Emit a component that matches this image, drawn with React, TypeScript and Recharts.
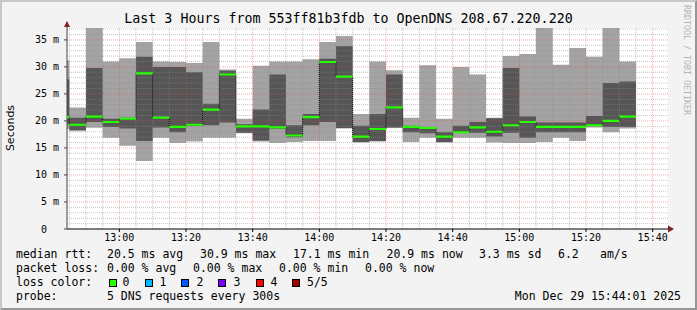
import React from 'react';
import {
  ComposedChart,
  Area,
  Line,
  XAxis,
  YAxis,
  ReferenceLine,
  ReferenceArea
} from 'recharts';

// 5 minute slots, start of each step
const slots = [
  '12:40', '12:45', '12:50', '12:55', '13:00', '13:05', '13:10', '13:15', '13:20',
  '13:25', '13:30', '13:35', '13:40', '13:45', '13:50', '13:55', '14:00', '14:05',
  '14:10', '14:15', '14:20', '14:25', '14:30', '14:35', '14:40', '14:45', '14:50',
  '14:55', '15:00', '15:05', '15:10', '15:15', '15:20', '15:25', '15:30'
];

// smoke values in ms
const maxRtt = [
  31.2, 22.5, 37.2, 31.0, 31.6, 34.6, 31.0, 30.9, 30.7,
  34.6, 29.5, 20.4, 30.2, 31.0, 31.0, 31.4, 34.6, 35.7,
  21.3, 31.0, 29.4, 20.6, 30.3, 20.4, 30.0, 28.6, 20.6,
  32.0, 32.4, 37.2, 30.4, 33.5, 31.9, 37.2, 31.0
];
const upperRtt = [
  27.7, 20.6, 29.8, 20.4, 20.6, 31.9, 30.0, 30.0, 29.0,
  23.2, 29.3, 19.4, 22.1, 28.6, 19.2, 21.3, 31.5, 33.8,
  19.1, 21.3, 28.6, 19.1, 18.8, 17.9, 19.1, 19.8, 20.5,
  29.8, 20.8, 19.7, 19.7, 19.7, 20.9, 27.0, 27.3
];
const medianRtt = [
  20.7, 19.3, 20.8, 19.8, 20.4, 28.8, 20.6, 18.9, 19.3,
  22.1, 28.6, 19.0, 19.0, 18.8, 17.3, 20.7, 30.9, 28.2,
  17.1, 18.5, 22.5, 18.9, 18.7, 17.1, 17.9, 18.8, 18.0,
  19.2, 19.8, 18.9, 18.9, 18.9, 19.2, 20.0, 20.8
];
const lowerRtt = [
  19.5, 18.3, 19.8, 18.9, 18.6, 16.3, 18.8, 17.9, 19.1,
  19.2, 19.7, 17.8, 16.4, 18.5, 17.0, 19.2, 19.8, 18.7,
  16.1, 16.3, 18.8, 17.9, 17.7, 16.1, 17.8, 17.8, 17.1,
  17.8, 16.9, 17.9, 17.9, 17.9, 19.0, 18.9, 18.9
];
const minRtt = [
  18.5, 18.1, 18.75, 16.9, 15.4, 12.6, 16.9, 15.9, 16.2,
  16.9, 16.9, 17.7, 16.2, 15.9, 16.1, 16.3, 16.3, 18.6,
  16.0, 16.2, 18.7, 16.1, 16.9, 16.0, 16.9, 16.9, 16.0,
  15.9, 15.9, 16.1, 16.9, 16.3, 18.8, 17.9, 18.6
];

const xTickLabels = ['13:00', '13:20', '13:40', '14:00', '14:20', '14:40', '15:00', '15:20', '15:40'];
const yTicks = [0, 5, 10, 15, 20, 25, 30, 35];

const toMin = (s: string) => {
  const [h, m] = s.split(':').map(Number);
  return h * 60 + m;
};
const fmt = (v: number) =>
  `${Math.floor(v / 60)}:${String(Math.round(v % 60)).padStart(2, '0')}`;

const xDomain: [number, number] = [764.3, 944.6];
const yDomain: [number, number] = [0, 37.2];

const row = (i: number, t: number) => ({
  t,
  smoke: [minRtt[i], maxRtt[i]],
  core: [lowerRtt[i], upperRtt[i]],
  med: medianRtt[i],
  medBand: [medianRtt[i] - 0.2, medianRtt[i] + 0.2]
});
const data = slots.map((s, i) => row(i, toMin(s)));
// close the last step
data.push(row(slots.length - 1, toMin(slots[slots.length - 1]) + 5));

const xTicks = xTickLabels.map(toMin);
const minorX: number[] = [];
for (let t = 765; t < xDomain[1]; t += 5) if (t % 20 !== 0) minorX.push(t);
const minorY: number[] = [];
for (let v = 1; v < yDomain[1]; v += 1) if (v % 5 !== 0) minorY.push(v);
const majorY = yTicks.filter((v) => v > 0);

const mono = '"DejaVu Sans Mono", monospace';
const GRID = 'rgba(140,140,140,0.5)';
const MGRID = 'rgba(222,70,70,0.45)';
const ARROW = '#7f1f1f';

const XTick = (props: any) => {
  const { x, y, payload } = props;
  return (
    <text x={x} y={y} dy={7} textAnchor="middle" fontFamily={mono} fontSize={10} fill="#000">
      {fmt(payload.value)}
    </text>
  );
};

const YTick = (props: any) => {
  const { x, y, payload } = props;
  const v = payload.value;
  return (
    <text x={x} y={y} dx={v === 0 ? -15 : -3} dy={3.5} textAnchor="end" fontFamily={mono} fontSize={10} fill="#000">
      {v === 0 ? '0' : `${v} m`}
    </text>
  );
};

const legendRows = [
  { top: 247, items: [[16, 'median rtt:'], [107, '20.5 ms avg'], [200, '30.9 ms max'], [293, '17.1 ms min'], [386.5, '20.9 ms now'], [479, '3.3 ms sd'], [558, '6.2'], [600, 'am/s']] },
  { top: 261, items: [[16, 'packet loss:'], [107, '0.00 % avg'], [193, '0.00 % max'], [279, '0.00 % min'], [365, '0.00 % now']] },
  { top: 275, items: [[16, 'loss color:'], [122.5, '0'], [159.5, '1'], [196.5, '2'], [233.5, '3'], [270.5, '4'], [307, '5/5']] },
  { top: 289, items: [[16, 'probe:'], [107, '5 DNS requests every 300s']] }
];

const lossBoxes: [number, string][] = [
  [108.5, '#26ff00'],
  [145, '#00b8ff'],
  [181, '#0059ff'],
  [218, '#7e00ff'],
  [255.5, '#ff0000'],
  [292, '#a00000']
];

export default function App() {
  return (
    <div style={{ position: 'fixed', left: 0, top: 0, width: 697, height: 310, background: '#f3f3f3', overflow: 'hidden' }}>
      <div style={{ position: 'absolute', left: 0, top: 0 }}>
        <ComposedChart width={697} height={310} data={data} margin={{ top: 28, right: 29, bottom: 61, left: 0 }}>
          <XAxis
            dataKey="t"
            type="number"
            domain={xDomain}
            allowDataOverflow
            ticks={xTicks}
            tick={<XTick />}
            tickSize={3}
            height={20}
            axisLine={{ stroke: '#000' }}
            tickLine={{ stroke: '#000' }}
          />
          <YAxis
            type="number"
            domain={yDomain}
            allowDataOverflow
            ticks={yTicks}
            tick={<YTick />}
            tickSize={3}
            width={67}
            axisLine={{ stroke: '#444' }}
            tickLine={{ stroke: '#444' }}
          />
          <ReferenceArea x1={xDomain[0]} x2={xDomain[1]} y1={yDomain[0]} y2={yDomain[1]} fill="#fff" fillOpacity={1} stroke="none" ifOverflow="hidden" />
          <Area type="stepAfter" dataKey="smoke" fill="#a3a3a3" fillOpacity={1} stroke="none" isAnimationActive={false} activeDot={false} />
          <Area type="stepAfter" dataKey="core" fill="#565656" fillOpacity={1} stroke="none" isAnimationActive={false} activeDot={false} />
          {minorX.map((t) => (
            <ReferenceLine key={`mx${t}`} x={t} stroke={GRID} strokeDasharray="1 1" />
          ))}
          {minorY.map((v) => (
            <ReferenceLine key={`my${v}`} y={v} stroke={GRID} strokeDasharray="1 1" />
          ))}
          {xTicks.map((t) => (
            <ReferenceLine key={`Mx${t}`} x={t} stroke={MGRID} strokeDasharray="1 1" />
          ))}
          {majorY.map((v) => (
            <ReferenceLine key={`My${v}`} y={v} stroke={MGRID} strokeDasharray="1 1" />
          ))}
          <Line type="stepAfter" dataKey="med" stroke="#000" strokeWidth={1} strokeDasharray="1 1" dot={false} activeDot={false} isAnimationActive={false} />
          <Area {...({ zIndex: 1500 } as any)} type="stepAfter" dataKey="medBand" fill="#26ff00" fillOpacity={1} stroke="none" isAnimationActive={false} activeDot={false} />
        </ComposedChart>
      </div>

      <svg width={697} height={310} style={{ position: 'absolute', left: 0, top: 0, pointerEvents: 'none' }}>
        <line x1={67} y1={22} x2={67} y2={28} stroke="#444" />
        <polygon points="64,27 70,27 67,21" fill={ARROW} />
        <polygon points="668,225.5 668,232.5 674,229" fill={ARROW} />
        <text x={10} y={128} transform="rotate(-90 10 128)" textAnchor="middle" dominantBaseline="central" fontFamily='"DejaVu Sans", sans-serif' fontSize={11} fill="#000">
          Seconds
        </text>
        <text x={687} y={60} transform="rotate(90 687 60)" textAnchor="middle" dominantBaseline="central" fontFamily={mono} fontSize={8.3} fill="#b4b4b4">
          RRDTOOL / TOBI OETIKER
        </text>
      </svg>

      <div style={{ position: 'absolute', left: 0, top: 11, width: 697, textAlign: 'center', fontFamily: mono, fontSize: 13.3, lineHeight: '16px', color: '#000', whiteSpace: 'pre' }}>
        Last 3 Hours from 553ff81b3fdb to OpenDNS 208.67.220.220
      </div>

      {legendRows.map((r) =>
        r.items.map(([x, txt]) => (
          <div key={`${r.top}-${x}`} style={{ position: 'absolute', left: x as number, top: r.top, fontFamily: mono, fontSize: 11.5, lineHeight: '14px', color: '#000', whiteSpace: 'pre' }}>
            {txt}
          </div>
        ))
      )}
      {lossBoxes.map(([x, c]) => (
        <div key={c} style={{ position: 'absolute', left: x, top: 279, width: 8, height: 8, boxSizing: 'border-box', border: '1px solid #000', background: c }} />
      ))}
      <div style={{ position: 'absolute', right: 16, top: 289, fontFamily: mono, fontSize: 11.5, lineHeight: '14px', color: '#000', whiteSpace: 'pre' }}>
        Mon Dec 29 15:44:01 2025
      </div>

      <div style={{ position: 'absolute', left: 0, top: 0, width: 697, height: 310, boxSizing: 'border-box', borderStyle: 'solid', borderWidth: 2, borderColor: '#c8c8c8 #969696 #969696 #c8c8c8', pointerEvents: 'none' }} />
    </div>
  );
}
